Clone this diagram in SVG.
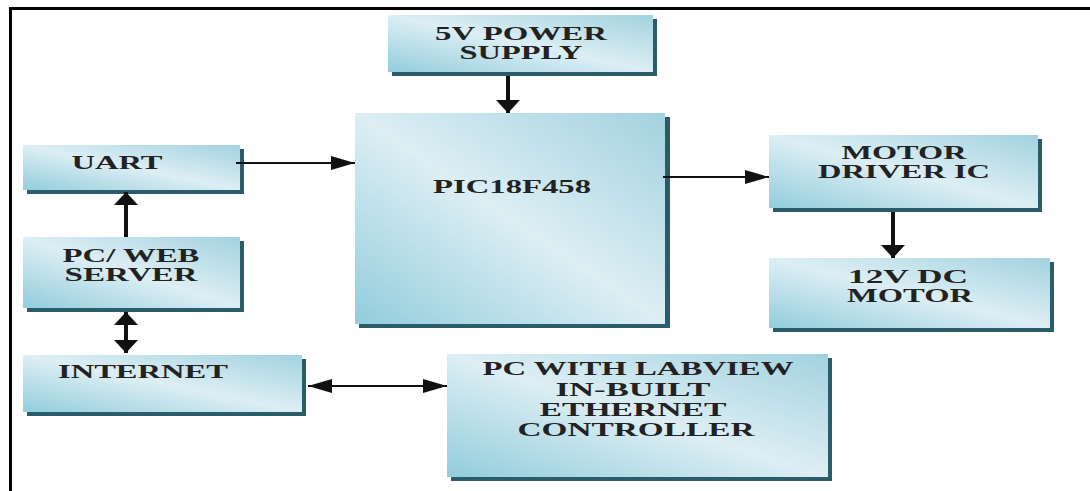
<svg xmlns="http://www.w3.org/2000/svg" width="1090" height="491" viewBox="0 0 1090 491">
<style>
.box{fill:url(#g)}
.sh{fill:#2b5c6a}
.t{font-family:"Liberation Serif","Times New Roman",serif;font-weight:bold;font-size:19px;fill:#222;text-anchor:middle}
.thin{stroke:#111;stroke-width:2;fill:none}
.thick{stroke:#111;stroke-width:4;fill:none}
</style>
<defs>
<linearGradient id="g" x1="0" y1="1" x2="1" y2="0">
<stop offset="0" stop-color="#92cddc"/>
<stop offset="0.5" stop-color="#ddeef4"/>
<stop offset="1" stop-color="#a2d2df"/>
</linearGradient>
<marker id="a" markerUnits="userSpaceOnUse" markerWidth="26" markerHeight="16" refX="24" refY="7" orient="auto-start-reverse">
<path d="M0,0 L24,7 L0,14 Z" fill="#111"/>
</marker>
<marker id="A" markerUnits="userSpaceOnUse" markerWidth="15" markerHeight="26" refX="13" refY="12" orient="auto-start-reverse">
<path d="M0,0 L13,12 L0,24 Z" fill="#111"/>
</marker>
</defs>
<rect width="1090" height="491" fill="#fff"/>
<path d="M10.5,491 V8.5 H1090" stroke="#000" stroke-width="3" fill="none"/>

<g id="power">
<rect class="sh" x="392" y="19" width="265" height="57"/>
<rect class="box" x="388" y="15" width="265" height="57"/>
<text class="t" x="521" y="40" textLength="172" lengthAdjust="spacingAndGlyphs">5V POWER</text>
<text class="t" x="521" y="59" textLength="123" lengthAdjust="spacingAndGlyphs">SUPPLY</text>
</g>
<g id="pic">
<rect class="sh" x="359" y="117" width="311" height="211"/>
<rect class="box" x="355" y="113" width="310" height="211"/>
<text class="t" x="512" y="193" textLength="158" lengthAdjust="spacingAndGlyphs">PIC18F458</text>
</g>
<g id="uart">
<rect class="sh" x="27" y="149" width="217" height="45"/>
<rect class="box" x="23" y="145" width="217" height="45"/>
<text class="t" x="117" y="169" textLength="91" lengthAdjust="spacingAndGlyphs">UART</text>
</g>
<g id="pcweb">
<rect class="sh" x="27" y="241" width="217" height="71"/>
<rect class="box" x="23" y="237" width="217" height="71"/>
<text class="t" x="131" y="262" textLength="137" lengthAdjust="spacingAndGlyphs">PC/ WEB</text>
<text class="t" x="131" y="281" textLength="133" lengthAdjust="spacingAndGlyphs">SERVER</text>
</g>
<g id="internet">
<rect class="sh" x="27" y="359" width="279" height="57"/>
<rect class="box" x="23" y="355" width="279" height="57"/>
<text class="t" x="143" y="378" textLength="170" lengthAdjust="spacingAndGlyphs">INTERNET</text>
</g>
<g id="labview">
<rect class="sh" x="451" y="358" width="381" height="123"/>
<rect class="box" x="447" y="354" width="381" height="123"/>
<text class="t" x="638" y="375" textLength="311" lengthAdjust="spacingAndGlyphs">PC WITH LABVIEW</text>
<text class="t" x="633" y="396" textLength="155" lengthAdjust="spacingAndGlyphs">IN-BUILT</text>
<text class="t" x="633" y="416" textLength="187" lengthAdjust="spacingAndGlyphs">ETHERNET</text>
<text class="t" x="636" y="436" textLength="237" lengthAdjust="spacingAndGlyphs">CONTROLLER</text>
</g>
<g id="motordriver">
<rect class="sh" x="773" y="139" width="269" height="73"/>
<rect class="box" x="769" y="135" width="269" height="73"/>
<text class="t" x="904" y="159" textLength="125" lengthAdjust="spacingAndGlyphs">MOTOR</text>
<text class="t" x="904" y="178" textLength="172" lengthAdjust="spacingAndGlyphs">DRIVER IC</text>
</g>
<g id="motor">
<rect class="sh" x="773" y="262" width="281" height="70"/>
<rect class="box" x="769" y="258" width="281" height="70"/>
<text class="t" x="908" y="283" textLength="120" lengthAdjust="spacingAndGlyphs">12V DC</text>
<text class="t" x="910" y="302" textLength="126" lengthAdjust="spacingAndGlyphs">MOTOR</text>
</g>

<g id="connectors">
<path class="thin" d="M236,163 H355" marker-end="url(#a)"/>
<path class="thin" d="M663,177 H769" marker-end="url(#a)"/>
<path class="thin" d="M308,386 H447" marker-start="url(#a)" marker-end="url(#a)"/>
<path class="thick" d="M508,76 V113" marker-end="url(#A)"/>
<path class="thick" d="M893,212 V258" marker-end="url(#A)"/>
<path class="thick" d="M126,237 V192" marker-end="url(#A)"/>
<path class="thick" d="M126,312 V353" marker-start="url(#A)" marker-end="url(#A)"/>
</g>
</svg>
